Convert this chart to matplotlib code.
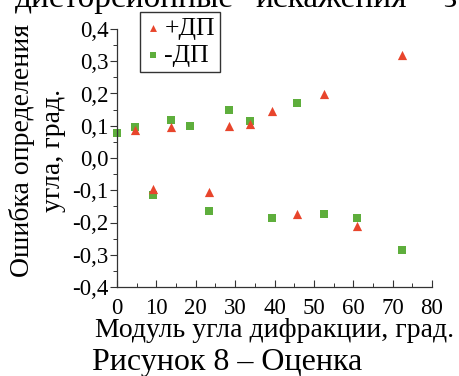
import matplotlib
matplotlib.use("Agg")
import matplotlib.pyplot as plt
from matplotlib.ticker import MultipleLocator, FuncFormatter

plt.rcParams["font.family"] = ["Liberation Serif", "DejaVu Serif"]

# +ДП (red triangles)
plus_x = [4.6, 9.1, 13.7, 23.4, 28.4, 33.8, 39.4, 45.7, 52.5, 61.0, 72.4]
plus_y = [0.088, -0.095, 0.095, -0.105, 0.100, 0.105, 0.145, -0.175, 0.197, -0.210, 0.320]

# -ДП (green squares)
minus_x = [0.0, 4.6, 9.1, 13.7, 18.5, 23.4, 28.4, 33.8, 39.4, 45.7, 52.5, 61.0, 72.4]
minus_y = [0.078, 0.095, -0.115, 0.119, 0.100, -0.165, 0.150, 0.115, -0.185, 0.172,
           -0.175, -0.185, -0.284]

RED = "#e8452c"
GREEN = "#5eae3c"

W, H = 459, 376
fig = plt.figure(figsize=(W / 100, H / 100), dpi=100)
ax = fig.add_axes([117 / W, 1 - 287 / H, 315 / W, 258 / H])

ax.scatter(plus_x, plus_y, marker="^", s=44, color=RED, linewidths=0,
           label="+ДП", zorder=3, clip_on=False)
ax.scatter(minus_x, minus_y, marker="s", s=34, color=GREEN, linewidths=0,
           label="-ДП", zorder=2, clip_on=False)

ax.set_xlim(0, 80)
ax.set_ylim(-0.4, 0.4)
for side in ("top", "right"):
    ax.spines[side].set_visible(False)
for side in ("left", "bottom"):
    ax.spines[side].set_linewidth(0.9)
    ax.spines[side].set_color("#333333")

ax.xaxis.set_major_locator(MultipleLocator(10))
ax.xaxis.set_minor_locator(MultipleLocator(5))
ax.yaxis.set_major_locator(MultipleLocator(0.1))
ax.yaxis.set_minor_locator(MultipleLocator(0.05))
ax.yaxis.set_major_formatter(
    FuncFormatter(lambda v, p: f"{v:.1f}".replace(".", ",").replace("-0,0", "0,0")))

ax.tick_params(axis="x", which="major", direction="in", length=5, width=0.8,
               labelsize=16.5, pad=8, colors="#333333", labelcolor="black")
ax.tick_params(axis="x", which="minor", direction="in", length=3, width=0.7,
               colors="#333333")
ax.tick_params(axis="y", which="major", direction="out", length=5, width=0.8,
               labelsize=16.5, pad=1, colors="#333333", labelcolor="black")
ax.tick_params(axis="y", which="minor", direction="out", length=3, width=0.7,
               colors="#333333")

# axis titles
fig.text(275 / W, 1 - 337 / H, "Модуль угла дифракции, град.", fontsize=20,
         ha="center", va="baseline")
fig.text(29 / W, 1 - 150 / H, "Ошибка определения", rotation=90, fontsize=20,
         ha="center", va="baseline", rotation_mode="anchor")
fig.text(60 / W, 1 - 150 / H, "угла, град.", rotation=90, fontsize=20,
         ha="center", va="baseline", rotation_mode="anchor")

leg = ax.legend(loc="upper left", bbox_to_anchor=(140 / W, 1 - 12 / H),
                bbox_transform=fig.transFigure, borderaxespad=0,
                fontsize=18.5, frameon=True, fancybox=False, handletextpad=0.15,
                handlelength=0.6, borderpad=0.2, labelspacing=0.15,
                markerscale=0.75)
leg.get_frame().set_edgecolor("black")
leg.get_frame().set_linewidth(1.0)

# surrounding document text, partly cut off by the crop
fig.text(15 / W, 1 - 7 / H, "дисторсионные", fontsize=24, ha="left", va="baseline")
fig.text(255 / W, 1 - 7 / H, "искажения", fontsize=24, ha="left", va="baseline")
fig.text(443 / W, 1 - 7 / H, "з", fontsize=24, ha="left", va="baseline")
fig.text(92 / W, 1 - 370 / H, "Рисунок 8 – Оценка", fontsize=23,
         ha="left", va="baseline")

fig.savefig("out.png", dpi=100)
